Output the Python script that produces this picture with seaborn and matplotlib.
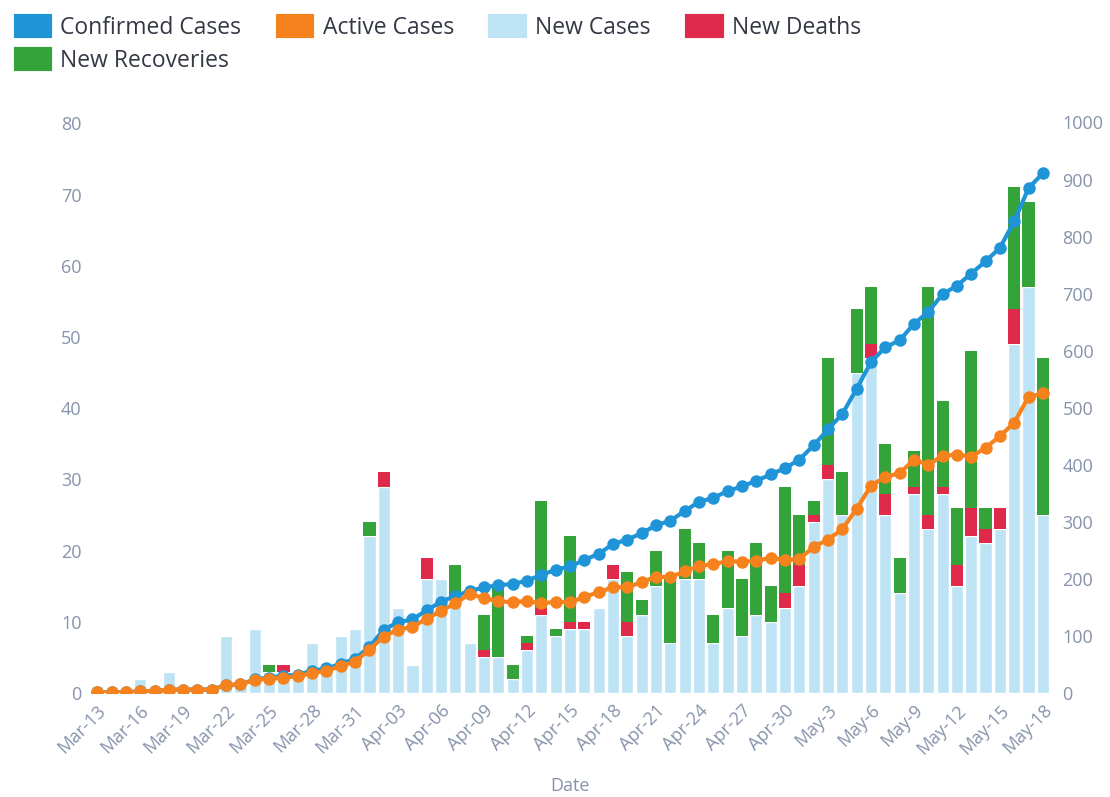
import numpy as np
import pandas as pd
import matplotlib
matplotlib.use('Agg')
import matplotlib.pyplot as plt
import seaborn as sns
from matplotlib.patches import Patch

sns.set_theme(style="white")
plt.rcParams['font.family'] = ['Open Sans', 'DejaVu Sans']

# daily categories, Mar-13 .. May-18
dates = pd.date_range('2020-03-13', '2020-05-18', freq='D')
date_labels = list(dates.strftime('%b-%d'))

tick_labels = ['Mar-13', 'Mar-16', 'Mar-19', 'Mar-22', 'Mar-25', 'Mar-28', 'Mar-31',
               'Apr-03', 'Apr-06', 'Apr-09', 'Apr-12', 'Apr-15', 'Apr-18', 'Apr-21',
               'Apr-24', 'Apr-27', 'Apr-30', 'May-3', 'May-6', 'May-9', 'May-12',
               'May-15', 'May-18']

new_cases = [1, 0, 0, 2, 0, 3, 0, 0, 0, 8, 1, 9, 3, 3, 2, 7, 4, 8, 9, 22,
             29, 12, 4, 16, 16, 13, 7, 5, 5, 2, 6, 11, 8, 9, 9, 12, 16, 8, 11, 15,
             7, 16, 16, 7, 12, 8, 11, 10, 12, 15, 24, 30, 25, 45, 47, 25, 14, 28, 23, 28,
             15, 22, 21, 23, 49, 57, 25]
new_deaths = [0, 0, 0, 0, 0, 0, 0, 0, 0, 0, 0, 0, 0, 1, 0, 0, 0, 0, 0, 0,
              2, 0, 0, 3, 0, 0, 0, 1, 0, 0, 1, 1, 0, 1, 1, 0, 2, 2, 0, 0,
              0, 0, 0, 0, 0, 0, 0, 0, 2, 3, 1, 2, 0, 0, 2, 3, 0, 1, 2, 1,
              3, 4, 2, 3, 5, 0, 0]
new_recoveries = [0, 0, 0, 0, 0, 0, 0, 0, 0, 0, 0, 0, 1, 0, 0, 0, 0, 0, 0, 2,
                  0, 0, 0, 0, 0, 5, 0, 5, 10, 2, 1, 15, 1, 12, 0, 0, 0, 7, 2, 5,
                  9, 7, 5, 4, 8, 8, 10, 5, 15, 7, 2, 15, 6, 9, 8, 7, 5, 5, 32, 12,
                  8, 22, 3, 0, 17, 12, 22]
confirmed = [1, 1, 1, 3, 3, 6, 6, 6, 6, 14, 15, 24, 27, 30, 32, 39, 43, 51, 60, 81,
             111, 124, 129, 145, 160, 170, 179, 185, 189, 191, 197, 207, 216, 222, 233, 244, 261, 269, 280, 294,
             302, 319, 335, 342, 354, 362, 372, 383, 394, 409, 434, 462, 489, 533, 580, 606, 618, 647, 668, 699,
             714, 735, 757, 780, 827, 885, 911]
active = [1, 1, 1, 3, 3, 6, 6, 6, 6, 14, 15, 23, 25, 27, 29, 35, 39, 47, 55, 76,
          99, 111, 116, 130, 144, 157, 174, 166, 161, 159, 161, 157, 160, 159, 168, 177, 185, 186, 194, 204,
          203, 213, 223, 226, 231, 230, 232, 237, 233, 235, 256, 269, 287, 323, 363, 379, 385, 409, 400, 416,
          418, 414, 430, 450, 474, 519, 525]

c_conf = '#1f95d8'
c_active = '#f6821e'
c_new = '#bee3f4'
c_death = '#df2a4b'
c_recov = '#34a33a'
c_tick = '#8793ab'

fig = plt.figure(figsize=(11.1, 7.97), dpi=100)
ax = fig.add_axes([0.0811, 0.1305, 0.8649, 0.7415])

x = np.arange(len(date_labels))
sns.barplot(x=date_labels, y=new_cases, color=c_new, saturation=1, width=0.85,
            errorbar=None, ax=ax)
ax.bar(x, new_deaths, bottom=new_cases, width=0.85, color=c_death, linewidth=0)
ax.bar(x, new_recoveries, bottom=np.add(new_cases, new_deaths), width=0.85,
       color=c_recov, linewidth=0)

ax2 = ax.twinx()
sns.lineplot(x=x, y=confirmed, ax=ax2, color=c_conf, marker='o', markersize=9,
             linewidth=3, markeredgewidth=0)
sns.lineplot(x=x, y=active, ax=ax2, color=c_active, marker='o', markersize=9,
             linewidth=3, markeredgewidth=0)

ax.set_xlim(-0.5, len(x) - 0.5)
ax.set_ylim(0, 83)
ax2.set_ylim(0, 83 * 12.48)
ax.set_yticks(range(0, 81, 10))
ax2.set_yticks(range(0, 1001, 100))
ax.set_xticks(x[::3])
ax.set_xticklabels(tick_labels, rotation=45, ha='right', rotation_mode='anchor')

for a in (ax, ax2):
    for s in a.spines.values():
        s.set_visible(False)
    a.set_ylabel('')
    a.tick_params(length=0, labelsize=13, colors=c_tick)
ax.tick_params(axis='y', pad=6)
ax.tick_params(axis='x', pad=6)
ax2.tick_params(axis='y', pad=9)

ax.set_xlabel('Date', fontsize=13, color=c_tick)
ax.xaxis.set_label_coords(0.5, -0.142)

handles = [Patch(facecolor=c_conf, edgecolor=c_conf, linewidth=3, joinstyle='round'),
           Patch(facecolor=c_recov, edgecolor=c_recov, linewidth=3, joinstyle='round'),
           Patch(facecolor=c_active, edgecolor=c_active, linewidth=3, joinstyle='round'),
           Patch(facecolor=c_new, edgecolor=c_new, linewidth=3, joinstyle='round'),
           Patch(facecolor=c_death, edgecolor=c_death, linewidth=3, joinstyle='round')]
labels = ['Confirmed Cases', 'New Recoveries', 'Active Cases', 'New Cases', 'New Deaths']
fig.legend(handles, labels, loc='upper left', bbox_to_anchor=(0.014, 0.98), ncol=4,
           frameon=False, fontsize=16.5, handlelength=1.5, handleheight=0.95,
           handletextpad=0.45, columnspacing=1.6, labelspacing=0.4,
           borderpad=0, borderaxespad=0, labelcolor='#333844')

plt.savefig('out.png', dpi=100)
